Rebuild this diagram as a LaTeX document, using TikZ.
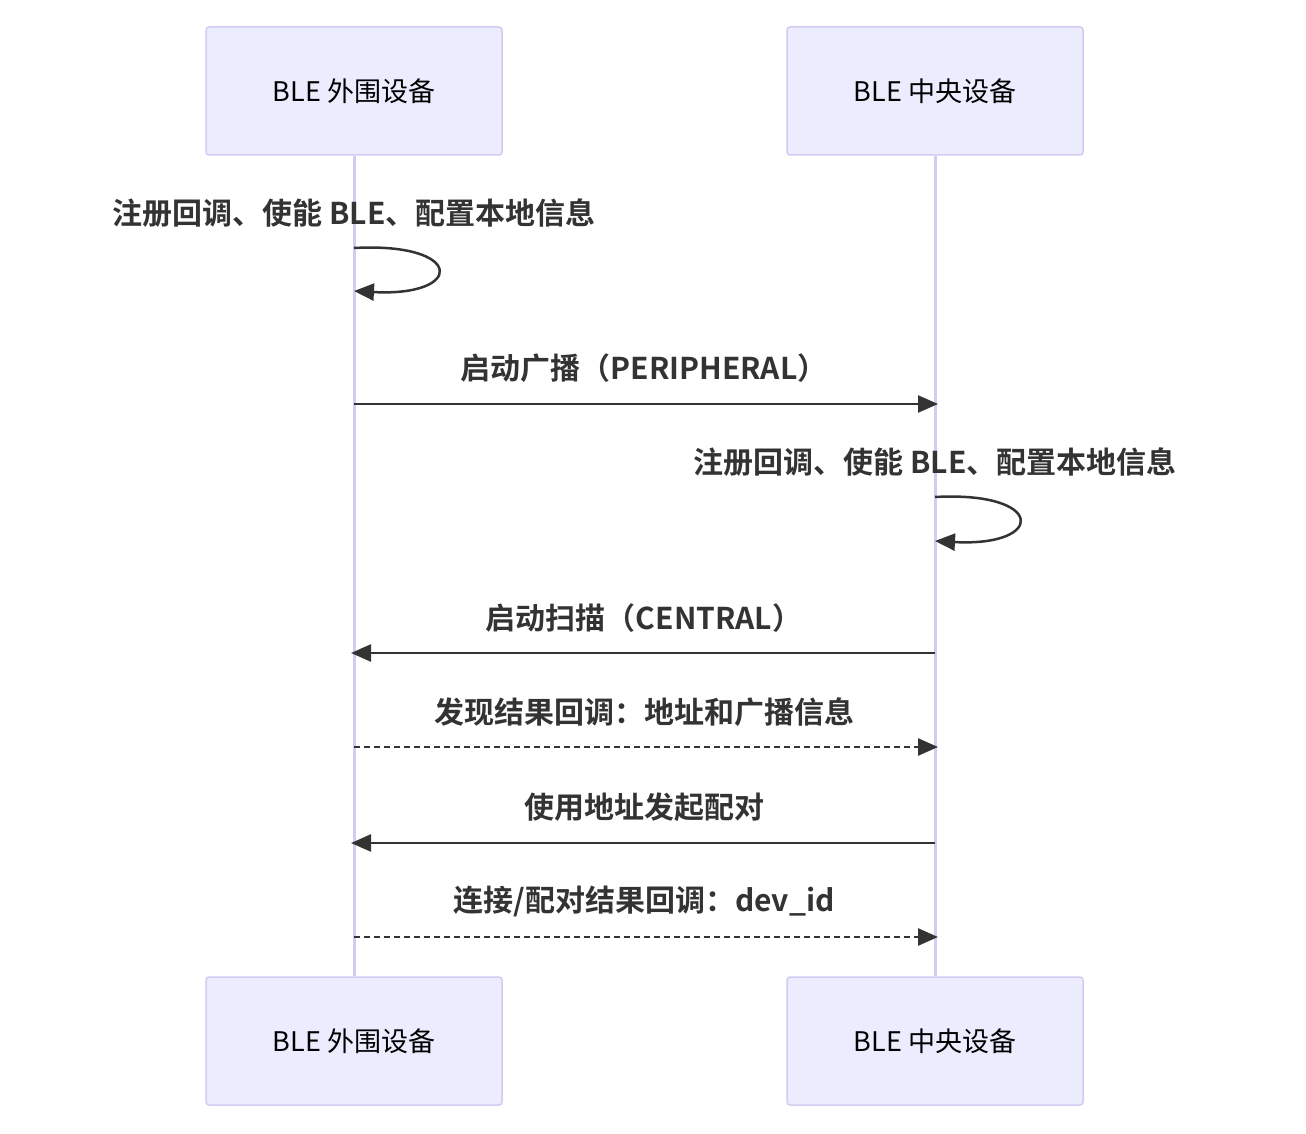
\documentclass[tikz,border=0pt]{standalone}
\usepackage{fontspec}
\setmainfont{Noto Sans CJK SC}[BoldFont={Noto Sans CJK SC Bold}]
\usetikzlibrary{arrows.meta}
\usetikzlibrary{positioning}
\definecolor{actfill}{HTML}{ECECFF}
\definecolor{actline}{HTML}{D3CBF2}
\definecolor{msgtext}{HTML}{333333}
\tikzset{
  actor/.style={draw=actline, line width=1.5pt, fill=actfill, rounded corners=3pt,
    minimum width=296pt, minimum height=128pt, font=\fontsize{27}{30}\selectfont, text=black},
  life/.style={actline, line width=3pt},
  msg/.style={msgtext, line width=2.5pt, -{Triangle[length=20pt,width=17pt]}},
  reply/.style={msg, dash pattern=on 6pt off 4pt},
  label/.style={font=\fontsize{30}{34}\selectfont\bfseries, text=msgtext}
}
\begin{document}
\begin{tikzpicture}[x=1pt, y=-1pt]
    \useasboundingbox (0, 0) rectangle (1306, 1134);

    \node [actor] (pTop) at (354, 91) {BLE 外围设备};
    \node [actor] (cTop) at (935, 91) {BLE 中央设备};
    \node [actor] (pBot) at (354, 1041) {BLE 外围设备};
    \node [actor] (cBot) at (935, 1041) {BLE 中央设备};

    \begin{scope}[on background layer/.style={}]
    \end{scope}
    \draw [life] (pTop.south) -- (pBot.north);
    \draw [life] (cTop.south) -- (cBot.north);

    % self calls
    \coordinate (p1) at (354, 248);
    \coordinate (p2) at (354, 291);
    \node [label] (selfP) at (354, 213) {注册回调、使能 BLE、配置本地信息};
    \draw [msg] (p1) .. controls (465, 242) and (465, 297) .. (p2);

    \coordinate (c1) at (935, 497);
    \coordinate (c2) at (935, 541);
    \node [label] (selfC) at (935, 462) {注册回调、使能 BLE、配置本地信息};
    \draw [msg] (c1) .. controls (1046, 491) and (1046, 547) .. (c2);

    % messages
    \coordinate (pa) at (354, 404);
    \coordinate (ca) at (938, 404);
    \node [label] (m1) at (644, 368) {启动广播（PERIPHERAL）};
    \draw [msg] (pa) -- (ca);

    \coordinate (cb) at (935, 653);
    \coordinate (pb) at (351, 653);
    \node [label] (m2) at (644, 618) {启动扫描（CENTRAL）};
    \draw [msg] (cb) -- (pb);

    \coordinate (pc) at (354, 747);
    \coordinate (cc) at (938, 747);
    \node [label] (m3) at (644, 712) {发现结果回调：地址和广播信息};
    \draw [reply] (pc) -- (cc);

    \coordinate (cd) at (935, 843);
    \coordinate (pd) at (351, 843);
    \node [label] (m4) at (644, 807) {使用地址发起配对};
    \draw [msg] (cd) -- (pd);

    \coordinate (pe) at (354, 937);
    \coordinate (ce) at (938, 937);
    \node [label] (m5) at (644, 901) {连接/配对结果回调：dev\_id};
    \draw [reply] (pe) -- (ce);
  \end{tikzpicture}
\end{document}
